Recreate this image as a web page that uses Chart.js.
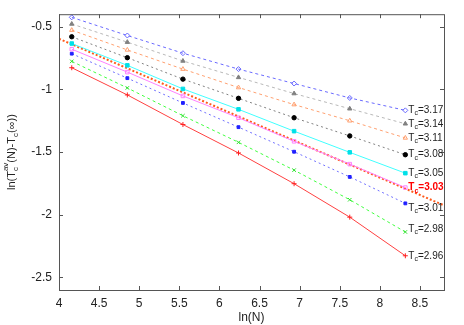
<!DOCTYPE html>
<html>
<head>
<meta charset="utf-8">
<script src="https://cdn.jsdelivr.net/npm/chart.js@4/dist/chart.umd.min.js"></script>
<style>
  html, body { margin: 0; padding: 0; background: #fff; }
  #wrap { width: 464px; height: 325px; }
</style>
</head>
<body>
<div id="wrap"><canvas id="c" width="464" height="325"></canvas></div>
<script>
// ln(N) for N = 64 ... 4096
var lnN = [4.159, 4.852, 5.545, 6.238, 6.931, 7.625, 8.318];

// ln(Tc_av(N) - Tc(inf)) for each trial Tc(inf)
var t317 = [-0.425, -0.570, -0.711, -0.838, -0.953, -1.068, -1.167];
var t314 = [-0.478, -0.623, -0.773, -0.904, -1.033, -1.154, -1.274];
var t311 = [-0.527, -0.685, -0.838, -0.985, -1.121, -1.250, -1.387];
var t308 = [-0.580, -0.747, -0.918, -1.071, -1.226, -1.371, -1.521];
var t305 = [-0.634, -0.808, -0.996, -1.159, -1.333, -1.502, -1.668];
var t303 = [-0.679, -0.862, -1.052, -1.226, -1.414, -1.596, -1.783];
var t301 = [-0.715, -0.910, -1.108, -1.301, -1.497, -1.698, -1.909];
var t298 = [-0.776, -0.988, -1.210, -1.422, -1.644, -1.880, -2.137];
var t296 = [-0.827, -1.044, -1.280, -1.507, -1.752, -2.019, -2.327];

// straight fit through the Tc=3.03 points
var fitX = [4, 8.8];
var fitY = [-0.596, -1.925];

var seriesNames = ['3.17', '3.14', '3.11', '3.08', '3.05', '3.03', '3.01', '2.98', '2.96'];
var xTicks = [4, 4.5, 5, 5.5, 6, 6.5, 7, 7.5, 8, 8.5];
var yTicks = [-2.5, -2, -1.5, -1, -0.5];

function pts(xs, ys) {
    var out = [];
    for (var i = 0; i < ys.length; i++) out.push({ x: xs[i], y: ys[i] });
    return out;
}

function series(name, ys, color, style, fill, dash, ptColor, r) {
    return {
        label: name,
        data: pts(lnN, ys),
        showLine: true,
        borderColor: color,
        borderWidth: 1,
        borderDash: dash,
        pointStyle: style,
        pointRadius: r || 2.5,
        pointBorderWidth: 1,
        pointBorderColor: ptColor || color,
        pointBackgroundColor: fill ? (ptColor || color) : 'rgba(0,0,0,0)'
    };
}

var FONT = '"Liberation Sans", Arial, Helvetica, sans-serif';
// small vertical nudges so labels clear the fit line (px)
var labelShift = { '3.01': 5, '2.98': -3 };

// Tc labels at the last point of each series
function drawTc(ctx, x, y, val, color, bold) {
    var w = bold ? 'bold ' : '';
    ctx.fillStyle = color;
    ctx.textBaseline = 'middle';
    ctx.textAlign = 'left';
    ctx.font = w + '10px ' + FONT;
    ctx.fillText('T', x, y);
    x += ctx.measureText('T').width;
    ctx.font = w + '7px ' + FONT;
    ctx.fillText('c', x, y + 3);
    x += ctx.measureText('c').width;
    ctx.font = w + '10px ' + FONT;
    ctx.fillText('=' + val, x, y);
}

var decorPlugin = {
    id: 'decor',
    afterDatasetsDraw: function (chart) {
        var ctx = chart.ctx;
        var a = chart.chartArea;
        var xs = chart.scales.x, ys = chart.scales.y;
        ctx.save();
        // axis box + inward ticks on all sides
        ctx.strokeStyle = '#555';
        ctx.lineWidth = 1;
        ctx.strokeRect(a.left + 0.5, a.top + 0.5, a.right - a.left, a.bottom - a.top);
        ctx.beginPath();
        xTicks.forEach(function (v) {
            var px = Math.round(xs.getPixelForValue(v)) + 0.5;
            ctx.moveTo(px, a.bottom); ctx.lineTo(px, a.bottom - 4);
            ctx.moveTo(px, a.top); ctx.lineTo(px, a.top + 4);
        });
        yTicks.forEach(function (v) {
            var py = Math.round(ys.getPixelForValue(v)) + 0.5;
            ctx.moveTo(a.left, py); ctx.lineTo(a.left + 4, py);
            ctx.moveTo(a.right, py); ctx.lineTo(a.right - 4, py);
        });
        ctx.stroke();

        // series labels
        chart.data.datasets.forEach(function (ds, i) {
            if (seriesNames.indexOf(ds.label) < 0) return;
            var meta = chart.getDatasetMeta(i);
            var p = meta.data[meta.data.length - 1];
            var hot = ds.label === '3.03';
            drawTc(ctx, p.x + 3, p.y + (labelShift[ds.label] || 0), ds.label, hot ? '#ff0000' : '#222', hot);
        });

        // y axis title: ln(T_c^av(N)-T_c(inf))
        ctx.translate(12, (a.top + a.bottom) / 2);
        ctx.rotate(-Math.PI / 2);
        ctx.fillStyle = '#222';
        ctx.textBaseline = 'middle';
        ctx.textAlign = 'left';
        var big = '11px ' + FONT, small = '8px ' + FONT;
        var parts = [
            ['ln(T', big, 0], ['c', small, 4, 'av'], ['(N)-T', big, 0], ['c', small, 4], ['(\u221e))', big, 0]
        ];
        var total = 0;
        parts.forEach(function (p) {
            ctx.font = p[1];
            var w = ctx.measureText(p[0]).width;
            if (p[3]) w = Math.max(w, ctx.measureText(p[3]).width);
            total += w;
        });
        var x = -total / 2;
        parts.forEach(function (p) {
            ctx.font = p[1];
            ctx.fillText(p[0], x, p[2]);
            var w = ctx.measureText(p[0]).width;
            if (p[3]) {
                ctx.fillText(p[3], x, -6);
                w = Math.max(w, ctx.measureText(p[3]).width);
            }
            x += w;
        });
        ctx.restore();
    }
};

var datasets = [
    series('3.17', t317, '#6a6aff', 'rectRot', false, [3, 3]),
    series('3.14', t314, '#b8b8b8', 'triangle', true, [3, 3], '#808080'),
    series('3.11', t311, '#ffa070', 'triangle', false, [3, 3]),
    series('3.08', t308, '#808080', 'circle', true, [2, 3], '#000000', 2.2),
    series('3.05', t305, '#40ffff', 'rect', true, [], '#00e0e8'),
    series('3.03', t303, '#ff80ff', 'rect', false, []),
    series('3.01', t301, '#7070ff', 'rect', true, [2, 3], '#2020ff', 2),
    series('2.98', t298, '#40ff40', 'crossRot', false, [3, 3], '#30e030'),
    series('2.96', t296, '#ff4040', 'cross', false, [], '#ff2020'),
    {
        label: 'fit',
        data: pts(fitX, fitY),
        showLine: true,
        borderColor: '#ff5a1a',
        borderWidth: 2,
        borderDash: [2, 2],
        pointRadius: 0
    }
];

new Chart(document.getElementById('c'), {
    type: 'scatter',
    data: { datasets: datasets },
    plugins: [decorPlugin],
    options: {
        responsive: false,
        animation: false,
        layout: { padding: { left: 0, top: 14, right: 20, bottom: 0 } },
        plugins: { legend: { display: false }, tooltip: { enabled: false } },
        scales: {
            x: {
                type: 'linear', min: 4, max: 8.8,
                afterBuildTicks: function (s) { s.ticks = xTicks.map(function (v) { return { value: v }; }); },
                afterFit: function (s) { s.height = 35; },
                grid: { display: false, drawTicks: false }, border: { display: false },
                ticks: { color: '#222', font: { size: 12, family: FONT }, padding: 6, maxRotation: 0,
                    callback: function (v) { return String(v); } },
                title: { display: true, text: 'ln(N)', color: '#222', font: { size: 12, family: FONT }, padding: { top: 1, bottom: 0 } }
            },
            y: {
                type: 'linear', min: -2.6, max: -0.4,
                afterBuildTicks: function (s) { s.ticks = yTicks.map(function (v) { return { value: v }; }); },
                afterFit: function (s) { s.width = 59; },
                grid: { display: false, drawTicks: false }, border: { display: false },
                ticks: { color: '#222', font: { size: 12, family: FONT }, padding: 7,
                    callback: function (v) { return String(v); } }
            }
        }
    }
});
</script>
</body>
</html>
